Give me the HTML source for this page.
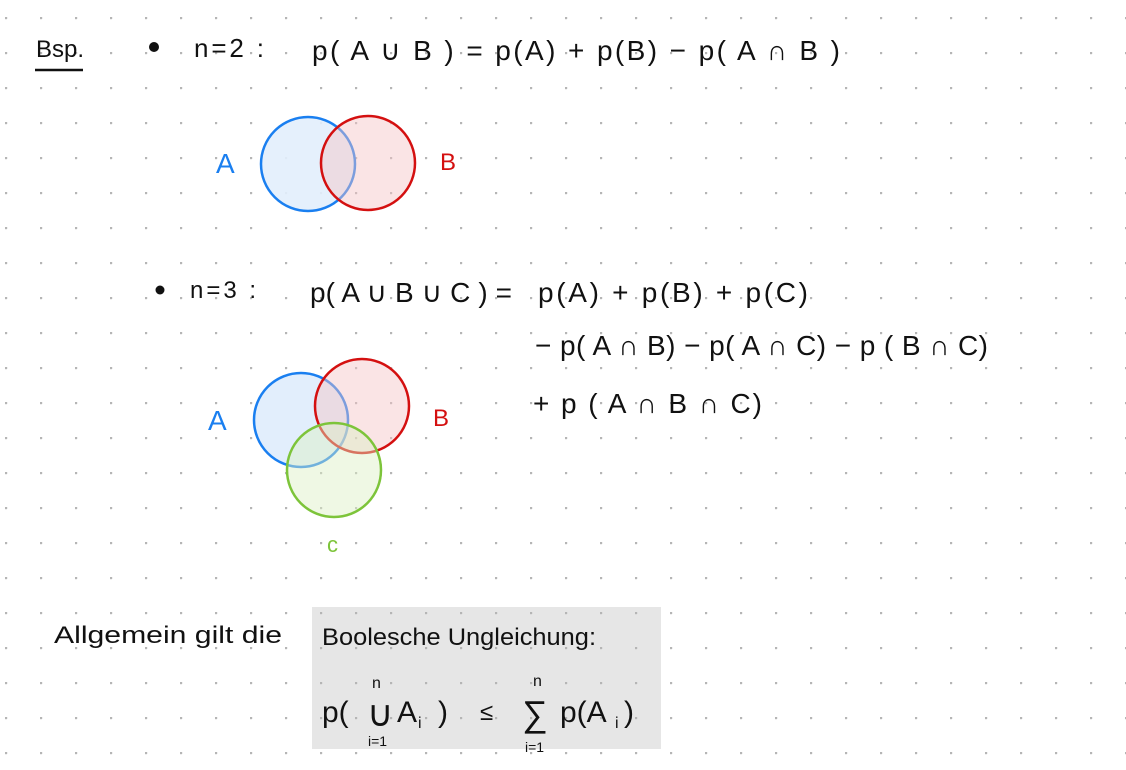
<!DOCTYPE html>
<html><head><meta charset="utf-8"><style>
html,body{margin:0;padding:0;background:#fff}
svg{display:block}
text{font-family:"Liberation Sans",sans-serif;fill:#111}
</style></head><body>
<svg width="1126" height="770" viewBox="0 0 1126 770">
<defs><pattern id="dots" x="5" y="17" width="35" height="35" patternUnits="userSpaceOnUse"><circle cx="1" cy="1" r="1.3" fill="#b5b5b5"/></pattern></defs>
<rect width="1126" height="770" fill="#fff"/>
<rect x="312" y="607" width="349" height="142" fill="#e6e6e6"/>
<rect width="1126" height="770" fill="url(#dots)"/>

<g>
<text x="36" y="57" font-size="24">Bsp.</text>
<line x1="35" y1="70" x2="83" y2="70" stroke="#111" stroke-width="2.5"/>
</g>
<circle cx="154" cy="47" r="5" fill="#111"/>
<text x="194" y="57" font-size="26" textLength="70" lengthAdjust="spacing">n=2 :</text>
<text x="312" y="60" font-size="28" textLength="528" lengthAdjust="spacing">p( A ∪ B )  =  p(A) + p(B) − p( A ∩ B )</text>

<g>
<circle cx="308" cy="164" r="47" fill="#e2eefc" stroke="#1a7ff0" stroke-width="2.5" fill-opacity="0.9"/>
<circle cx="368" cy="163" r="47" fill="#f5c4c6" fill-opacity="0.45" stroke="#d41010" stroke-width="2.5"/>
<text x="216" y="173" font-size="28" style="fill:#1a7ff0">A</text>
<text x="440" y="170" font-size="24" style="fill:#d41010">B</text>
</g>

<circle cx="160" cy="290" r="4.5" fill="#111"/>
<text x="190" y="298" font-size="24" textLength="66" lengthAdjust="spacing">n=3 :</text>
<text x="310" y="302" font-size="28" textLength="202" lengthAdjust="spacing">p( A ∪ B ∪ C ) =</text>
<text x="538" y="302" font-size="28" textLength="270" lengthAdjust="spacing">p(A) + p(B) + p(C)</text>
<text x="535" y="355" font-size="28" textLength="453" lengthAdjust="spacing">− p( A ∩ B) − p( A ∩ C) − p ( B ∩ C)</text>
<text x="533" y="413" font-size="28" textLength="229" lengthAdjust="spacing">+ p ( A ∩ B ∩ C)</text>

<g>
<circle cx="301" cy="420" r="47" fill="#e2eefc" stroke="#1a7ff0" stroke-width="2.5"/>
<circle cx="362" cy="406" r="47" fill="#f5c4c6" fill-opacity="0.45" stroke="#d41010" stroke-width="2.5"/>
<circle cx="334" cy="470" r="47" fill="#dcefc4" fill-opacity="0.45" stroke="#7dc43a" stroke-width="2.5"/>
<text x="208" y="430" font-size="28" style="fill:#1a7ff0">A</text>
<text x="433" y="426" font-size="24" style="fill:#d41010">B</text>
<text x="327" y="552" font-size="22" style="fill:#7dc43a">c</text>
</g>

<text x="54" y="643" font-size="24" textLength="228" lengthAdjust="spacingAndGlyphs">Allgemein gilt die</text>
<text x="322" y="645" font-size="24" textLength="274" lengthAdjust="spacingAndGlyphs">Boolesche Ungleichung:</text>
<g>
<text x="322" y="722" font-size="30">p(</text>
<text x="367" y="726" font-size="36">∪</text>
<text x="372" y="688" font-size="16">n</text>
<text x="368" y="746" font-size="14">i=1</text>
<text x="397" y="722" font-size="30">A</text>
<text x="418" y="728" font-size="16">i</text>
<text x="438" y="722" font-size="30">)</text>
<text x="480" y="720" font-size="24">≤</text>
<text x="522" y="726" font-size="36">∑</text>
<text x="533" y="686" font-size="16">n</text>
<text x="525" y="752" font-size="14">i=1</text>
<text x="560" y="722" font-size="30">p(A</text>
<text x="615" y="728" font-size="16">i</text>
<text x="624" y="722" font-size="30">)</text>
</g>
</svg>
</body></html>
